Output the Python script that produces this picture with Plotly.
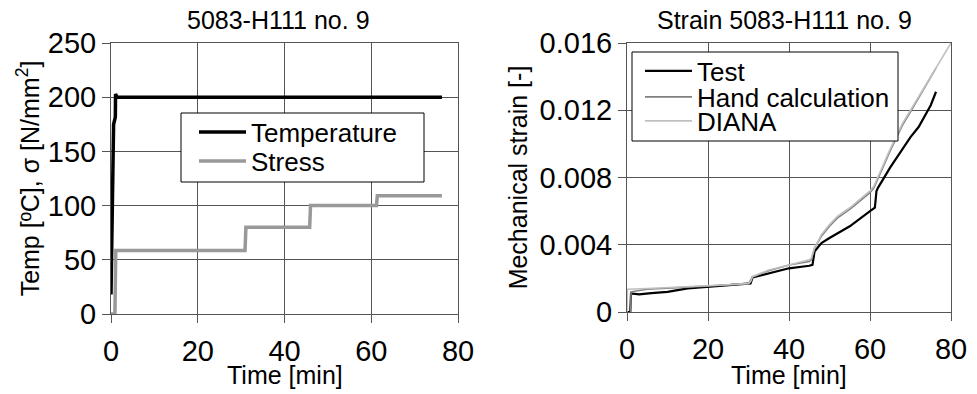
import plotly.graph_objects as go

# ---- Left chart data: temperature and stress vs time ----
temp_t = [0, 0.3, 0.6, 0.9, 1.0, 1.05, 1.4, 76.3]
temp_v = [18, 80, 175, 180, 182, 203, 200, 200]

stress_t = [0, 0.9, 1.1, 30.9, 31.1, 45.8, 46.0, 61.2, 61.4, 76.3]
stress_v = [0, 0, 58.5, 58.5, 80, 80, 100, 100, 109, 109]

# ---- Right chart data: mechanical strain vs time ----
test_t = [0, 0.8, 1.0, 3, 6, 10, 15, 20, 25, 30, 30.5, 31, 35, 40, 45, 45.8,
          46.3, 48, 50, 55, 60, 61.2, 61.6, 62, 65, 68, 70, 72, 75, 76.3]
test_v = [0, 0, 0.0011, 0.00105, 0.00112, 0.0012, 0.0014, 0.0015, 0.0016, 0.00168,
          0.0017, 0.00205, 0.0023, 0.0026, 0.00275, 0.0028, 0.0036, 0.0041, 0.0044,
          0.0051, 0.006, 0.0062, 0.0072, 0.0074, 0.0086, 0.0097, 0.0104, 0.011,
          0.0123, 0.0131]

hand_t = [0.9, 1.0, 5, 10, 15, 20, 25, 30, 30.5, 31, 35, 40, 45, 45.5, 46.3, 48,
          50, 52, 55, 58, 60, 61, 62, 63, 65, 68, 70, 72, 75, 76.3]
hand_v = [0, 0.0012, 0.00135, 0.0014, 0.00148, 0.00155, 0.0016, 0.00168, 0.0019,
          0.0021, 0.00245, 0.0028, 0.003, 0.0031, 0.0038, 0.0045, 0.0051, 0.0056,
          0.0061, 0.0067, 0.0071, 0.0074, 0.0079, 0.0085, 0.0096, 0.0111, 0.0119,
          0.0127, 0.0139, 0.0145]

diana_t = [0, 0.1, 5, 10, 15, 20, 25, 30, 30.5, 31, 35, 40, 45, 45.5, 46.3, 48,
           50, 52, 55, 58, 60, 61, 62, 63, 65, 68, 70, 72, 75, 78, 80]
diana_v = [0, 0.00135, 0.0014, 0.00145, 0.0015, 0.00155, 0.00162, 0.0017, 0.0018,
           0.0021, 0.0025, 0.0028, 0.0031, 0.0032, 0.0038, 0.0046, 0.0052, 0.0057,
           0.0062, 0.0068, 0.0072, 0.0075, 0.0080, 0.0086, 0.0097, 0.0112, 0.0120,
           0.0128, 0.0140, 0.0152, 0.016]

left_title = "5083-H111 no. 9"
right_title = "Strain 5083-H111 no. 9"
x_title = "Time [min]"
left_y_title = "Temp [ºC], σ [N/mm<sup>2</sup>]"
right_y_title = "Mechanical strain [-]"
x_ticks = [0, 20, 40, 60, 80]
left_y_ticks = [0, 50, 100, 150, 200, 250]
right_y_ticks = [0, 0.004, 0.008, 0.012, 0.016]
right_y_labels = ["0", "0.004", "0.008", "0.012", "0.016"]

FONT = "Liberation Sans, Arial, sans-serif"
GRID = "#555555"
OFF = 8                      # page body margin offset
W, H = 977 - OFF, 394 - OFF


def px_x(p):
    return (p - OFF) / W


def px_y(p):
    return 1 - (p - OFF) / H


fig = go.Figure()
fig.add_trace(go.Scatter(x=temp_t, y=temp_v, mode="lines", name="Temperature",
                         line=dict(color="black", width=3.5), xaxis="x", yaxis="y",
                         legend="legend"))
fig.add_trace(go.Scatter(x=stress_t, y=stress_v, mode="lines", name="Stress",
                         line=dict(color="#999999", width=3.5), xaxis="x", yaxis="y",
                         legend="legend2"))
fig.add_trace(go.Scatter(x=test_t, y=test_v, mode="lines", name="Test",
                         line=dict(color="black", width=2.2), xaxis="x2", yaxis="y2",
                         legend="legend3"))
fig.add_trace(go.Scatter(x=hand_t, y=hand_v, mode="lines", name="Hand calculation",
                         line=dict(color="#808080", width=1.6), xaxis="x2", yaxis="y2",
                         legend="legend4"))
fig.add_trace(go.Scatter(x=diana_t, y=diana_v, mode="lines", name="DIANA",
                         line=dict(color="#c0c0c0", width=1.6), xaxis="x2", yaxis="y2",
                         legend="legend5"))

axis_common = dict(showgrid=True, gridcolor=GRID, gridwidth=1, showline=True,
                   mirror=True, linecolor=GRID, linewidth=1, zeroline=False,
                   ticks="outside", ticklen=8, tickcolor=GRID, automargin=False,
                   tickfont=dict(family=FONT, size=29, color="black"))


def leg(xp, yp, size=26):
    return dict(x=px_x(xp), y=px_y(yp), xanchor="left", yanchor="middle",
                bgcolor="rgba(0,0,0,0)", borderwidth=0, itemwidth=47,
                font=dict(family=FONT, size=size, color="black"))


def text_ann(text, x, y, xref="paper", size=25, height=None):
    d = dict(text=text, x=x, y=y, xref=xref, yref="paper",
             xanchor="center", yanchor="middle", showarrow=False,
             font=dict(family=FONT, size=size, color="black"))
    if height is not None:
        d["height"] = height
        d["valign"] = "middle"
    return d


fig.update_layout(
    width=W, height=H,
    margin=dict(l=0, r=0, t=0, b=0, autoexpand=False),
    paper_bgcolor="white", plot_bgcolor="white",
    font=dict(family=FONT, color="black"),
    xaxis=dict(domain=[px_x(111), px_x(458)], range=[0, 80], tickvals=x_ticks,
               anchor="y", ticklabelstandoff=3, **axis_common),
    yaxis=dict(domain=[px_y(314), px_y(43)], range=[0, 250], tickvals=left_y_ticks,
               anchor="x",
               title=dict(text=left_y_title, font=dict(size=25), standoff=1),
               **axis_common),
    xaxis2=dict(domain=[px_x(627), px_x(951)], range=[0, 80], tickvals=x_ticks,
                anchor="y2", ticklabelstandoff=3, **axis_common),
    yaxis2=dict(domain=[px_y(312), px_y(43)], range=[0, 0.016], tickvals=right_y_ticks,
                ticktext=right_y_labels, anchor="x2",
                title=dict(text=right_y_title, font=dict(size=25), standoff=4),
                **axis_common),
    legend=leg(194, 132),
    legend2=leg(194, 161),
    legend3=leg(640, 71),
    legend4=leg(640, 97),
    legend5=leg(640, 121),
    shapes=[
        dict(type="rect", xref="paper", yref="paper", layer="above",
             x0=px_x(181), x1=px_x(424), y0=px_y(182), y1=px_y(113),
             line=dict(color="black", width=1), fillcolor="white"),
        dict(type="rect", xref="paper", yref="paper", layer="above",
             x0=px_x(632), x1=px_x(898), y0=px_y(141), y1=px_y(52),
             line=dict(color="black", width=1), fillcolor="white"),
    ],
    annotations=[
        text_ann(left_title, px_x(278), px_y(20), height=22),
        text_ann(right_title, px_x(784), px_y(20), height=22),
        text_ann(x_title, 0.5, px_y(375), xref="x domain"),
        text_ann(x_title, 0.5, px_y(375), xref="x2 domain"),
    ],
    showlegend=True,
)

fig.write_html("out.html")
